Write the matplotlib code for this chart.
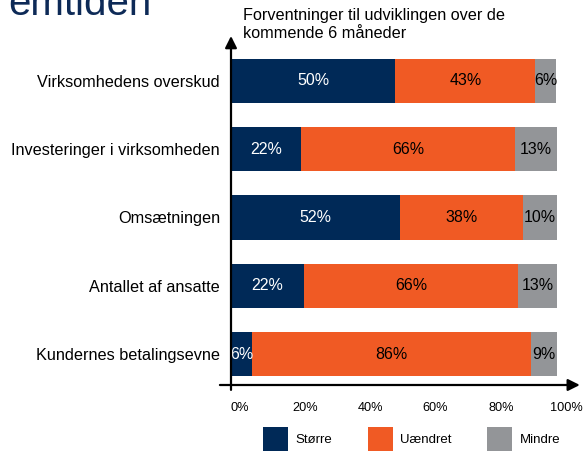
import matplotlib.pyplot as plt
import matplotlib.transforms as mtransforms
from matplotlib.patches import Patch
import numpy as np

plt.rcParams['font.family'] = ['Liberation Sans', 'DejaVu Sans']

categories = [
    'Virksomhedens overskud',
    'Investeringer i virksomheden',
    'Omsætningen',
    'Antallet af ansatte',
    'Kundernes betalingsevne',
]
# shares in percent
stoerre = [50.4, 21.6, 51.9, 22.4, 6.4]
uaendret = [43.0, 65.6, 37.8, 65.7, 85.6]
mindre = [6.4, 12.8, 10.3, 12.6, 8.6]

series_names = ['Større', 'Uændret', 'Mindre']
colors = ['#002957', '#F05A24', '#939598']
label_colors = ['white', 'black', 'black']
xticks = [0, 20, 40, 60, 80, 100]

W, H = 583, 453
fig = plt.figure(figsize=(W / 100, H / 100), dpi=100)
# axes: x=0 at px 231, x=100 at px 557; bottom at px 385, top at px 36
ax = fig.add_axes([231 / W, (H - 385) / H, 326 / W, 349 / H])

y = np.arange(len(categories))
left = np.zeros(len(categories))
for name, vals, col, lcol in zip(series_names, [stoerre, uaendret, mindre],
                                 colors, label_colors):
    vals = np.array(vals)
    bars = ax.barh(y, vals, left=left, height=0.645, color=col, label=name)
    ax.bar_label(bars, labels=[f'{v:.0f}%' for v in vals],
                 label_type='center', color=lcol, fontsize=11.5)
    left += vals

ax.set_xlim(0, 100)
ax.set_ylim(4.454, -0.659)
ax.set_yticks(y)
ax.set_yticklabels(categories, fontsize=11.7)
ax.set_xticks(xticks)
ax.set_xticklabels([f'{t}%' for t in xticks], fontsize=9.2)
ax.tick_params(axis='y', length=0, pad=8)
ax.tick_params(axis='x', length=0, pad=12)
shift = mtransforms.ScaledTranslation(9 / 100, 0, fig.dpi_scale_trans)
for lab in ax.get_xticklabels():
    lab.set_transform(lab.get_transform() + shift)
for s in ax.spines.values():
    s.set_visible(False)

# axis arrows
arrow = dict(arrowstyle='-|>,head_length=0.7,head_width=0.35', color='black',
             lw=1.6, shrinkA=0, shrinkB=0)
ax.annotate('', xy=(1.07, 0), xytext=(-0.034, 0), xycoords='axes fraction',
            arrowprops=arrow, annotation_clip=False)
ax.annotate('', xy=(0, 1.0), xytext=(0, -0.014), xycoords='axes fraction',
            arrowprops=arrow, annotation_clip=False)

fig.text(243 / W, 1 - 8 / H, 'Forventninger til udviklingen over de\nkommende 6 måneder',
         fontsize=11.7, va='top', ha='left', linespacing=1.22)

# cut-off heading from the page above
fig.text(8 / W, 1 - 15 / H, 'emtiden', fontsize=29, color='#0d2a57',
         va='baseline', ha='left')

handles = [Patch(facecolor=c, edgecolor='none') for c in colors]
fig.legend(handles, series_names, loc='upper left',
           bbox_to_anchor=(263 / W, 1 - 427 / H), ncol=3, frameon=False,
           fontsize=9.5, handlelength=1.9, handleheight=2.4,
           handletextpad=0.55, columnspacing=2.7, borderpad=0,
           borderaxespad=0)

fig.savefig('out.png', dpi=100)
